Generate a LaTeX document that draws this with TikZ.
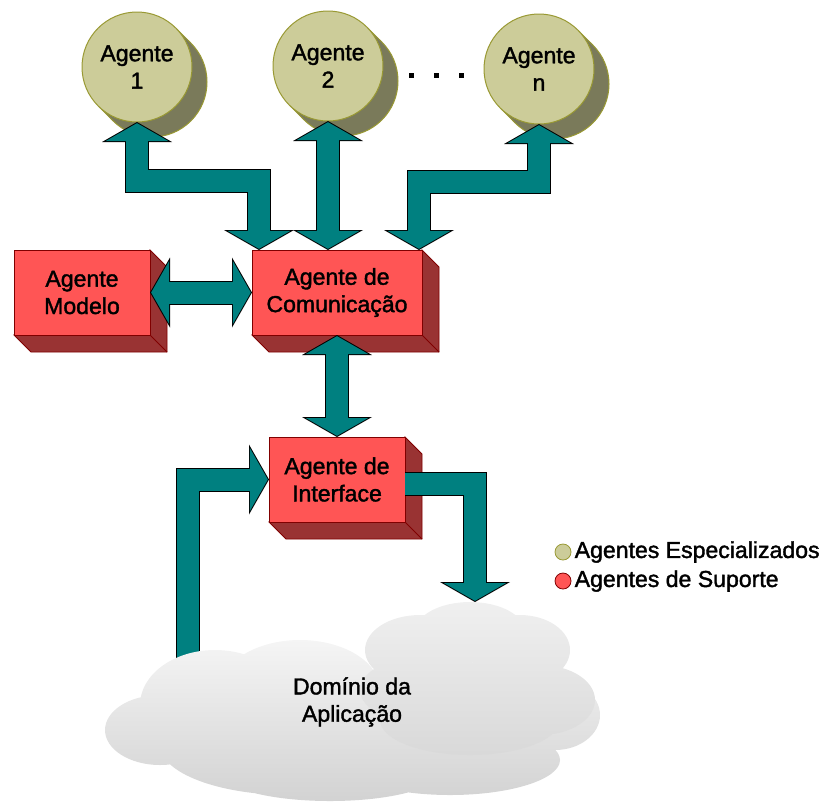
\documentclass[tikz,border=0pt]{standalone}
\usepackage{fontspec}
\setmainfont{Liberation Sans}[BoldFont=*, BoldFeatures={FakeBold=1.6}]
\usetikzlibrary{arrows.meta,calc,backgrounds}

\definecolor{agfill}{RGB}{204,204,153}
\definecolor{agline}{RGB}{153,153,51}
\definecolor{agdark}{RGB}{122,122,90}
\definecolor{supfill}{RGB}{255,85,85}
\definecolor{supdark}{RGB}{153,51,51}
\definecolor{supline}{RGB}{128,0,0}
\definecolor{flowteal}{RGB}{0,128,128}

\tikzset{
  agent/.style={circle, draw=agline, fill=agfill, line width=0.75pt, minimum size=82.5pt, inner sep=0pt, outer sep=0pt, align=center},
  agentback/.style={agent, fill=agdark},
  support/.style={rectangle, draw=supline, fill=supfill, line width=0.6pt, minimum height=63.75pt, inner sep=0pt, outer sep=0pt, align=center},
  supportside/.style={fill=supdark, draw=supline, line width=0.6pt},
  flowout/.style={draw=black, line width=18pt, line join=miter, >={Triangle[length=15pt,width=52.5pt,line width=0pt]}},
  flowin/.style={draw=flowteal, line width=16.5pt, line join=miter, >={Triangle[length=13.4pt,width=46.9pt,line width=0pt]}, shorten >=0.86pt, shorten <=0.86pt},
  legend/.style={circle, minimum size=12pt, inner sep=0pt, line width=0.6pt},
}
\newcommand{\flow}[2]{\draw[flowout,#1] #2; \draw[flowin,#1] #2;}

\begin{document}
\begin{tikzpicture}[x=0.75pt, y=-0.75pt, font=\fontsize{17.3pt}{20.5pt}\selectfont\bfseries]
\useasboundingbox (0,0) rectangle (837,801);

% agentes especializados
\node[agent] (a1) at (137,67) {Agente\\1};
\node[agent] (a2) at (328,66) {Agente\\2};
\node[agent] (an) at (539,69) {Agente\\n};
\fill (409,73) rectangle ++(5,5);
\fill (434,73) rectangle ++(5,5);
\fill (459,73) rectangle ++(5,5);

% agentes de suporte
\node[support, minimum width=102pt] (modelo) at (82,292.5) {Agente\\Modelo};
\node[support, minimum width=127.5pt] (comm) at (337,292.5) {Agente de\\Comunicação};
\node[support, minimum width=102pt] (intf) at (337,479.5) {Agente de\\Interface};

\begin{scope}[on background layer]
  \node[agentback] (a1s) at ($(a1)+(15,15)$) {};
  \fill[agdark] (a1.45) -- (a1s.45) -- (a1s.225) -- (a1.225) -- cycle;
  \draw[agline, line width=0.75pt] (a1.45) -- (a1s.45) (a1.225) -- (a1s.225);
  \node[agentback] (a2s) at ($(a2)+(15,15)$) {};
  \fill[agdark] (a2.45) -- (a2s.45) -- (a2s.225) -- (a2.225) -- cycle;
  \draw[agline, line width=0.75pt] (a2.45) -- (a2s.45) (a2.225) -- (a2s.225);
  \node[agentback] (ans) at ($(an)+(15,15)$) {};
  \fill[agdark] (an.45) -- (ans.45) -- (ans.225) -- (an.225) -- cycle;
  \draw[agline, line width=0.75pt] (an.45) -- (ans.45) (an.225) -- (ans.225);
  \draw[supportside] (modelo.north east) -- ++(17,17) |- ($(modelo.south west)+(17,17)$) -- (modelo.south west) -- (modelo.south east) -- cycle;
  \draw[supline, line width=0.6pt] (modelo.south east) -- ++(17,17);
  \draw[supportside] (comm.north east) -- ++(17,17) |- ($(comm.south west)+(17,17)$) -- (comm.south west) -- (comm.south east) -- cycle;
  \draw[supline, line width=0.6pt] (comm.south east) -- ++(17,17);
  \draw[supportside] (intf.north east) -- ++(17,17) |- ($(intf.south west)+(17,17)$) -- (intf.south west) -- (intf.south east) -- cycle;
  \draw[supline, line width=0.6pt] (intf.south east) -- ++(17,17);
\end{scope}

\coordinate (c1) at (259,250);
\coordinate (c3) at (419,250);
\coordinate (cl) at (188,661);
\coordinate (cr) at (475,602);

\flow{<->}{(a1.south) -- ++(0,58.5) -| (c1)}
\flow{<->}{(a2.south) -- (a2.south |- comm.north)}
\flow{<->}{(an.south) -- ++(0,58) -| (c3)}
\flow{<->}{(modelo.east) -- (comm.west)}
\flow{<->}{(comm.south) -- (intf.north)}
\flow{->,shorten <=0pt}{(cl) |- (intf.west)}
\flow{->,shorten <=0pt}{([yshift=-3pt]intf.east) -| (cr)}

% dominio
\shade[top color=gray!8, bottom color=gray!35]
  (160,730) ellipse [x radius=55, y radius=35]
  (215,705) ellipse [x radius=75, y radius=55]
  (300,690) ellipse [x radius=80, y radius=50]
  (290,745) ellipse [x radius=130, y radius=50]
  (330,772) ellipse [x radius=110, y radius=29]
  (450,760) ellipse [x radius=110, y radius=35]
  (555,715) ellipse [x radius=45, y radius=35];
\shade[top color=gray!12, bottom color=gray!30]
  (420,650) ellipse [x radius=55, y radius=35]
  (470,632) ellipse [x radius=55, y radius=30]
  (520,650) ellipse [x radius=50, y radius=35]
  (540,700) ellipse [x radius=55, y radius=35]
  (470,720) ellipse [x radius=90, y radius=35]
  (430,690) ellipse [x radius=70, y radius=35];
\node[align=center] (dom) at (352,702) {Domínio da\\Aplicação};

% legenda
\node[legend, draw=agline, fill=agfill] (lg1) at (563,552) {};
\node[anchor=west] (lt1) at (570,552) {Agentes Especializados};
\node[legend, draw=supline, fill=supfill] (lg2) at (563,581) {};
\node[anchor=west] (lt2) at (570,581) {Agentes de Suporte};
\end{tikzpicture}
\end{document}
